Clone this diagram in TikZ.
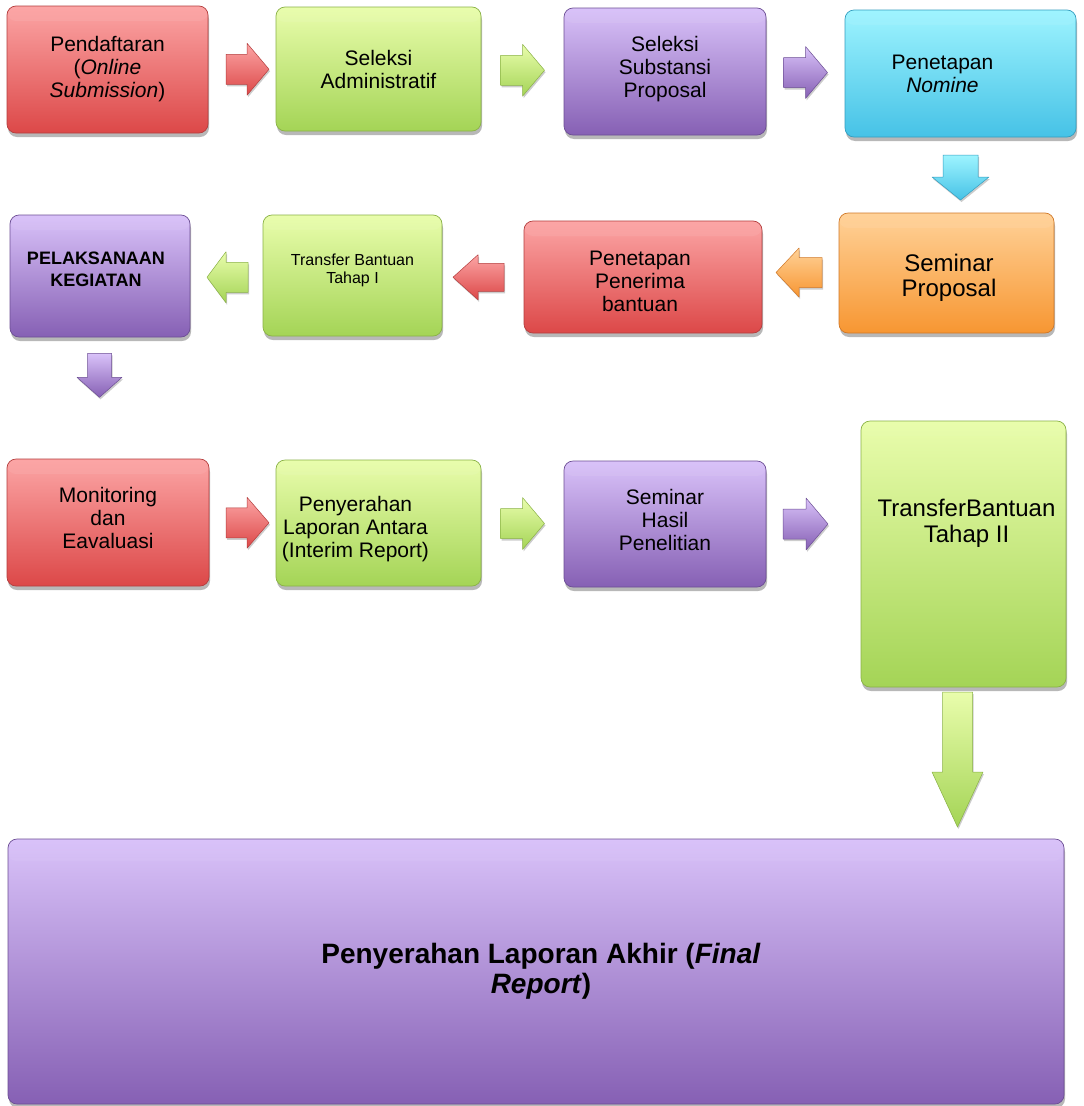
\documentclass[tikz,border=0pt]{standalone}
\usepackage{fontspec}
\setmainfont{Liberation Sans}
\usetikzlibrary{shadows,fadings,calc}

\definecolor{redT}{RGB}{252,165,165}
\definecolor{redB}{RGB}{220,72,72}
\definecolor{redD}{RGB}{180,62,62}
\definecolor{greenT}{RGB}{233,253,172}
\definecolor{greenB}{RGB}{164,212,86}
\definecolor{greenD}{RGB}{138,178,70}
\definecolor{purpT}{RGB}{217,194,249}
\definecolor{purpB}{RGB}{134,96,180}
\definecolor{purpD}{RGB}{108,78,148}
\definecolor{cyanT}{RGB}{158,244,255}
\definecolor{cyanB}{RGB}{70,194,230}
\definecolor{cyanD}{RGB}{52,158,192}
\definecolor{orgT}{RGB}{255,210,152}
\definecolor{orgB}{RGB}{247,150,50}
\definecolor{orgD}{RGB}{208,120,40}

\newcommand\fsStd{\fontsize{21}{23}\selectfont}
\newcommand\fsBig{\fontsize{24}{25.5}\selectfont}
\newcommand\fsSmall{\fontsize{16}{18}\selectfont}
\newcommand\fsBold{\fontsize{18}{22}\selectfont\bfseries}
\newcommand\fsFinal{\fontsize{28}{30}\selectfont\bfseries}

% block arrow: #1 centre coordinate, #2 axis vector, #3 cross vector,
% #4 length, #5 head width, #6 shaft width, #7 head length, #8 colour
\newcommand\blockarr[8]{%
  \begin{scope}[shift={(#1)}, x={#2}, y={#3}]
    \path[arrfill=#8]
      ({-#4/2},{-#6/2}) -- ({#4/2-#7},{-#6/2}) -- ({#4/2-#7},{-#5/2})
      -- ({#4/2},0) -- ({#4/2-#7},{#5/2}) -- ({#4/2-#7},{#6/2})
      -- ({-#4/2},{#6/2}) -- cycle;
  \end{scope}}

\begin{document}
\begin{tikzpicture}[x=1pt,y=-1pt,
  box/.style={rounded corners=9pt, draw=#1D, line width=0.7pt,
    top color=#1T, bottom color=#1B, inner sep=0pt,
    drop shadow={shadow xshift=1pt, shadow yshift=-4pt, opacity=0.28, fill=black},
    path picture={\fill[white, fill opacity=0.6, path fading=north]
      ([yshift=1pt]path picture bounding box.north west) rectangle
      ([yshift=-15pt]path picture bounding box.north east);}},
  arrfill/.style={top color=#1T, bottom color=#1B, draw=#1D, line width=0.5pt,
    line join=round,
    drop shadow={shadow xshift=1pt, shadow yshift=-2pt, opacity=0.2, fill=black}},
  txt/.style={inner sep=0pt, align=center, text=black}]

\useasboundingbox (0,0) rectangle (1084,1106);
\fill[white] (0,0) rectangle (1084,1106);

% ---- boxes
\node[box=red,   minimum width=201, minimum height=127] (b1) at (107.5,69.5) {};
\node[box=green, minimum width=205, minimum height=124] (b2) at (378.5,69) {};
\node[box=purp,  minimum width=202, minimum height=127] (b3) at (665,71.5) {};
\node[box=cyan,  minimum width=231, minimum height=127] (b4) at (960.5,73.5) {};
\node[box=org,   minimum width=215, minimum height=120] (b5) at (946.5,273) {};
\node[box=red,   minimum width=238, minimum height=112] (b6) at (643,277) {};
\node[box=green, minimum width=179, minimum height=121] (b7) at (352.5,275.5) {};
\node[box=purp,  minimum width=180, minimum height=122] (b8) at (100,276) {};
\node[box=red,   minimum width=202, minimum height=127] (b9) at (108,522.5) {};
\node[box=green, minimum width=205, minimum height=126] (b10) at (378.5,523) {};
\node[box=purp,  minimum width=202, minimum height=126] (b11) at (665,524) {};
\node[box=green, minimum width=205, minimum height=266] (b12) at (963.5,554) {};
\node[box=purp,  minimum width=1056, minimum height=265,
  path picture={\fill[white, fill opacity=0.6, path fading=north]
      ([yshift=1pt]path picture bounding box.north west) rectangle
      ([yshift=-22pt]path picture bounding box.north east);}] (b13) at (536,971.5) {};

% ---- texts
\node[txt, font=\fsStd] (t1) at ([yshift=0pt]b1.center) {Pendaftaran\\(\textit{Online}\\\textit{Submission})};
\node[txt, font=\fsStd] (t2) at (b2.center) {Seleksi\\Administratif};
\node[txt, font=\fsStd] (t3) at ([yshift=2pt]b3.center) {Seleksi\\Substansi\\Proposal};
\node[txt, font=\fsStd] (t4) at ([xshift=-18pt,yshift=0pt]b4.center) {Penetapan\\\textit{Nomine}};
\node[txt, font=\fsBig] (t5) at ([xshift=2.5pt,yshift=-5pt]b5.center) {Seminar\\Proposal};
\node[txt, font=\fsStd] (t6) at ([xshift=-3pt,yshift=-4.5pt]b6.center) {Penetapan\\Penerima\\bantuan};
\node[txt, font=\fsSmall] (t7) at ([yshift=5.5pt]b7.center) {Transfer Bantuan\\Tahap I};
\node[txt, font=\fsBold] (t8) at ([xshift=-4pt,yshift=6.5pt]b8.center) {PELAKSANAAN\\KEGIATAN};
\node[txt, font=\fsStd] (t9) at ([yshift=4.5pt]b9.center) {Monitoring\\dan\\Eavaluasi};
\node[txt, font=\fsStd] (t10) at ([xshift=-23pt,yshift=-6.5pt]b10.center) {Penyerahan\\Laporan Antara\\(Interim Report)};
\node[txt, font=\fsStd] (t11) at ([yshift=4pt]b11.center) {Seminar\\Hasil\\Penelitian};
\node[txt, font=\fsBig] (t12) at ([xshift=3pt,yshift=30.5pt]b12.center) {TransferBantuan\\Tahap II};
\node[txt, font=\fsFinal] (t13) at ([xshift=5pt]b13.center) {Penyerahan Laporan Akhir (\textit{Final}\\\textit{Report})};

% ---- block arrow centres
\coordinate (a1) at ($(b1.east)!0.5!(b2.west) + (5.5,0)$);
\coordinate (a2) at ($(b2.east)!0.5!(b3.west)$);
\coordinate (a3) at ($(b3.east)!0.5!(b4.west)$);
\coordinate (a4) at ($(b4.south)!0.5!(b4.south|-b5.north) + (0,2.5)$);
\coordinate (a5) at ($(b6.east)!0.5!(b5.west) + (-1.5,-2.5)$);
\coordinate (a6) at ($(b7.east)!0.5!(b6.west) + (-4.5,1)$);
\coordinate (a7) at ($(b8.east)!0.5!(b7.west) + (1,1.5)$);
\coordinate (a8) at ($(b8.south) + (-0.5,38)$);
\coordinate (a9) at ($(b9.east)!0.5!(b10.west) + (5,0)$);
\coordinate (a10) at ($(b10.east)!0.5!(b11.west)$);
\coordinate (a11) at ($(b11.east)!0.5!(b11.east-|b12.west) + (-8,0)$);
\coordinate (a12) at ($(b12.south)!0.5!(b12.south|-b13.north) + (-6,-3.5)$);

% ---- block arrows
\blockarr{a1}{(1pt,0pt)}{(0pt,1pt)}{43}{52}{30}{22}{red}
\blockarr{a2}{(1pt,0pt)}{(0pt,1pt)}{44}{52}{30}{22}{green}
\blockarr{a3}{(1pt,0pt)}{(0pt,1pt)}{44}{52}{30}{22}{purp}
\blockarr{a4}{(0pt,-1pt)}{(1pt,0pt)}{45}{57}{35}{23}{cyan}
\blockarr{a5}{(-1pt,0pt)}{(0pt,1pt)}{46}{49}{30}{23}{org}
\blockarr{a6}{(-1pt,0pt)}{(0pt,1pt)}{51}{45}{28}{25}{red}
\blockarr{a7}{(-1pt,0pt)}{(0pt,1pt)}{41}{51}{30}{19}{green}
\blockarr{a8}{(0pt,-1pt)}{(1pt,0pt)}{44}{45}{24}{20}{purp}
\blockarr{a9}{(1pt,0pt)}{(0pt,1pt)}{43}{51}{30}{22}{red}
\blockarr{a10}{(1pt,0pt)}{(0pt,1pt)}{44}{52}{30}{22}{green}
\blockarr{a11}{(1pt,0pt)}{(0pt,1pt)}{45}{52}{30}{22}{purp}
\blockarr{a12}{(0pt,-1pt)}{(1pt,0pt)}{135}{51}{30}{55}{green}

\end{tikzpicture}
\end{document}
